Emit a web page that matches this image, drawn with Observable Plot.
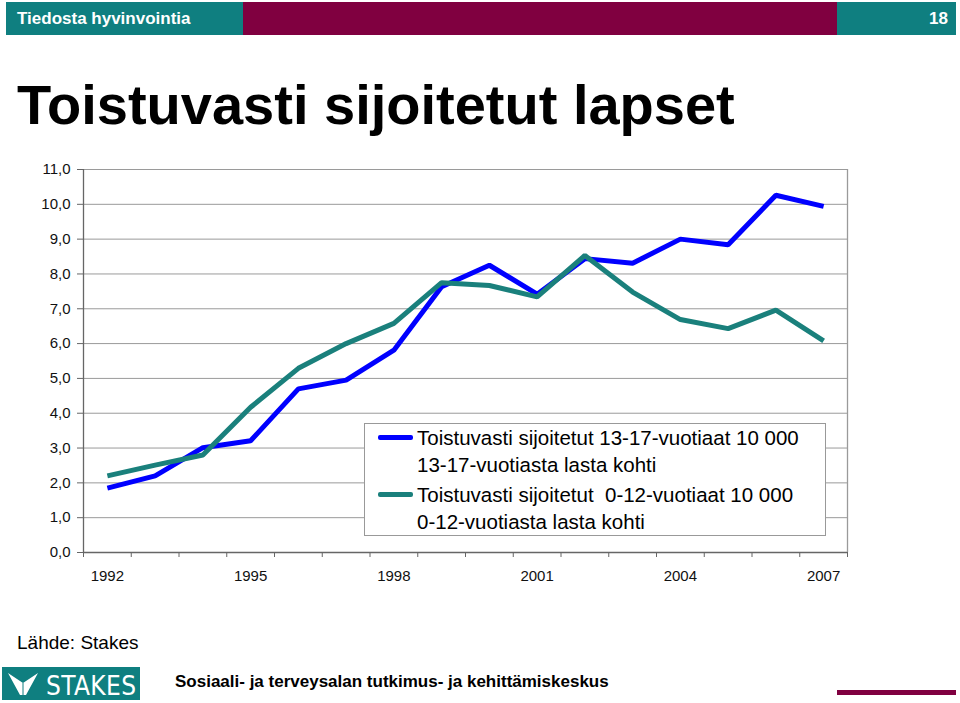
<!DOCTYPE html>
<html>
<head>
<meta charset="utf-8">
<script src="https://cdn.jsdelivr.net/npm/d3@7"></script>
<script src="https://cdn.jsdelivr.net/npm/@observablehq/plot@0.6"></script>
<style>
  html, body { margin: 0; padding: 0; background: #fff; }
  body { width: 960px; height: 703px; position: relative; overflow: hidden; font-family: "Liberation Sans", Arial, sans-serif; }
  .abs { position: absolute; }
  #chart { position: absolute; left: 0; top: 150px; }
</style>
</head>
<body>
<div class="abs" style="left:6px;top:2px;width:237px;height:33px;background:#0f7f80;"></div>
<div class="abs" style="left:243px;top:2px;width:594px;height:33px;background:#800040;"></div>
<div class="abs" style="left:837px;top:2px;width:119px;height:33px;background:#0f7f80;"></div>
<div class="abs" style="left:17px;top:9px;color:#fff;font-size:17px;line-height:20px;font-weight:bold;">Tiedosta hyvinvointia</div>
<div class="abs" style="left:900px;top:9px;width:48px;text-align:right;color:#fff;font-size:17px;line-height:20px;font-weight:bold;">18</div>

<div class="abs" style="left:17px;top:72px;font-size:56px;font-weight:bold;line-height:66px;color:#000;">Toistuvasti sijoitetut lapset</div>

<div id="chart"></div>

<div id="legend" class="abs" style="left:364px;top:423px;width:462px;height:113px;border:1px solid #999;background:#fff;box-sizing:border-box;"></div>

<div class="abs" style="left:17px;top:631px;font-size:19px;line-height:24px;color:#000;">Lähde: Stakes</div>
<div class="abs" style="left:2px;top:667px;width:138px;height:33px;background:#0f7f80;">
  <svg width="138" height="33" style="display:block">
    <path d="M6,6 L21,16 L36,6 L24,28 L18,28 Z" fill="#fff"/>
    <path d="M21,16 L21,28" stroke="#0f7f80" stroke-width="1"/>
    <text x="44" y="28" fill="#fff" font-family="'DejaVu Sans Condensed','Liberation Sans Narrow',sans-serif" font-size="26" textLength="90" lengthAdjust="spacing">STAKES</text>
  </svg>
</div>
<div class="abs" style="left:175px;top:672px;font-size:17px;font-weight:bold;line-height:20px;color:#000;">Sosiaali- ja terveysalan tutkimus- ja kehittämiskeskus</div>
<div class="abs" style="left:837px;top:690px;width:119px;height:5px;background:#800040;"></div>

<script>
// ---- data ----
const years = [1992, 1993, 1994, 1995, 1996, 1997, 1998, 1999, 2000, 2001, 2002, 2003, 2004, 2005, 2006, 2007];
const teens = [1.85, 2.2, 3.01, 3.21, 4.70, 4.95, 5.81, 7.63, 8.25, 7.42, 8.44, 8.31, 9.0, 8.84, 10.26, 9.94];
const children = [2.2, 2.51, 2.8, 4.17, 5.29, 6.0, 6.58, 7.75, 7.67, 7.34, 8.53, 7.48, 6.69, 6.43, 6.96, 6.08];
const yTicks = [0, 1, 2, 3, 4, 5, 6, 7, 8, 9, 10, 11];
const xLabels = [1992, 1995, 1998, 2001, 2004, 2007];
const seriesNames = [
  "Toistuvasti sijoitetut 13-17-vuotiaat 10 000\n13-17-vuotiasta lasta kohti",
  "Toistuvasti sijoitetut  0-12-vuotiaat 10 000\n0-12-vuotiasta lasta kohti"
];
const seriesColors = ["#0000ff", "#1a807c"];

const data = [];
years.forEach((yr, i) => {
  data.push({year: yr, value: teens[i], series: seriesNames[0]});
  data.push({year: yr, value: children[i], series: seriesNames[1]});
});
const boundaries = years.map(y => y - 0.5).concat([years[years.length - 1] + 0.5]);
const xMin = boundaries[0], xMax = boundaries[boundaries.length - 1];
const yMax = yTicks[yTicks.length - 1];
const font = "'Liberation Sans', Arial, sans-serif";

const chart = Plot.plot({
  width: 960,
  height: 442,
  marginLeft: 83,
  marginRight: 113,
  marginTop: 19,
  marginBottom: 40,
  style: {fontFamily: font, fontSize: "15px", color: "#000", background: "transparent", overflow: "visible"},
  x: {domain: [xMin, xMax]},
  y: {domain: [0, yMax]},
  color: {domain: seriesNames, range: seriesColors},
  marks: [
    Plot.ruleY(yTicks.slice(1), {stroke: "#9a9a9a", strokeWidth: 1}),
    Plot.ruleX([xMax], {stroke: "#9a9a9a", strokeWidth: 1.3}),
    Plot.ruleX([xMin], {stroke: "#666", strokeWidth: 1.3}),
    Plot.ruleY([0], {stroke: "#666", strokeWidth: 1.3}),
    Plot.axisY({ticks: yTicks, tickFormat: d => d.toFixed(1).replace(".", ","), tickSize: 6, tickPadding: 7, stroke: "#666", fill: "#111", fontSize: 15, fontFamily: font, label: null}),
    Plot.axisX({ticks: boundaries, tickFormat: () => "", tickSize: 5, stroke: "#666", label: null}),
    Plot.axisX({ticks: xLabels, tickFormat: d => String(d), tickSize: 0, tickPadding: 18, fill: "#111", fontSize: 15, fontFamily: font, label: null}),
    Plot.line(data, {x: "year", y: "value", z: "series", stroke: "series", strokeWidth: 5, strokeLinejoin: "miter", strokeLinecap: "butt"})
  ]
});
document.getElementById("chart").appendChild(chart);

// legend (HTML)
const legend = document.getElementById("legend");
const entryTops = [0, 57];
seriesNames.forEach((name, i) => {
  const e = document.createElement("div");
  e.style.cssText = `position:absolute;left:0;top:${entryTops[i]}px;width:460px;`;
  const sw = document.createElement("div");
  sw.style.cssText = `position:absolute;left:13px;top:11px;width:35px;height:5px;background:${seriesColors[i]};border-radius:2px;`;
  const t = document.createElement("div");
  t.style.cssText = "position:absolute;left:52px;top:0;font-size:20.5px;line-height:27px;white-space:pre;color:#000;";
  t.textContent = name;
  e.appendChild(sw); e.appendChild(t);
  legend.appendChild(e);
});
</script>
</body>
</html>
